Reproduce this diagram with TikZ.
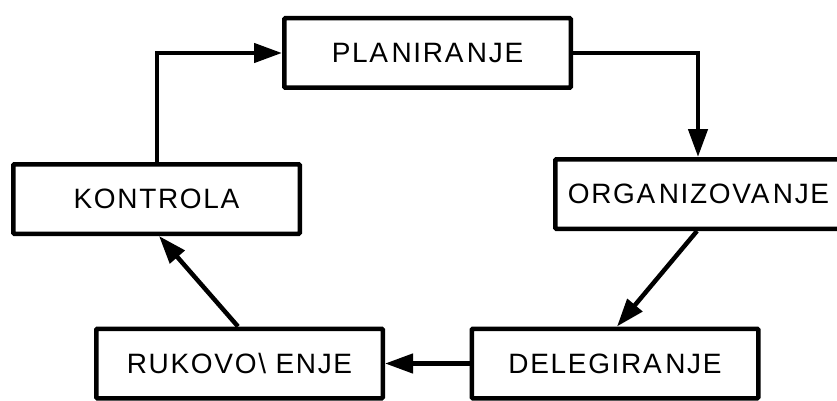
\documentclass[tikz,border=0pt]{standalone}
\usepackage{fontspec}
\setmainfont{Liberation Sans}
\newfontfamily\boxfont{Liberation Sans}[LetterSpace=6]
\usetikzlibrary{arrows.meta}
\newcommand{\agap}{\kern3.5pt}
\begin{document}
\begin{tikzpicture}[x=1pt,y=-1pt,
  stagebox/.style={draw, line width=4.5pt, rectangle, rounded corners=1pt,
    minimum width=286.5pt, minimum height=69.5pt, inner sep=0pt,
    font=\boxfont\fontsize{28pt}{32pt}\selectfont},
  flow/.style={line width=4.5pt, -{Triangle[length=28pt,width=19pt]}}]
\useasboundingbox (0,0) rectangle (837,401);
\node[stagebox] (plan) at (427.5,53) {PLA\agap NIRA\agap NJE};
\node[stagebox] (org) at (698.5,194) {ORGA\agap NIZOVA\agap NJE};
\node[stagebox] (del) at (615,363.5) {DELEGIRA\agap NJE};
\node[stagebox] (ruk) at (239.5,363.5) {RUKOVO\textbackslash\ ENJE};
\node[stagebox] (kon) at (156.5,199) {KONTROLA};
\draw[flow] (kon.north -| 157,0) |- (plan.west);
\draw[flow] (plan.east) -| (org.north -| 698,0);
\draw[flow] (org.south -| 697,0) -- (del.north -| 617,0);
\draw[flow] (del.west) -- (ruk.east);
\draw[flow] (ruk.north -| 238,0) -- (kon.south -| 159,0);
\end{tikzpicture}
\end{document}
